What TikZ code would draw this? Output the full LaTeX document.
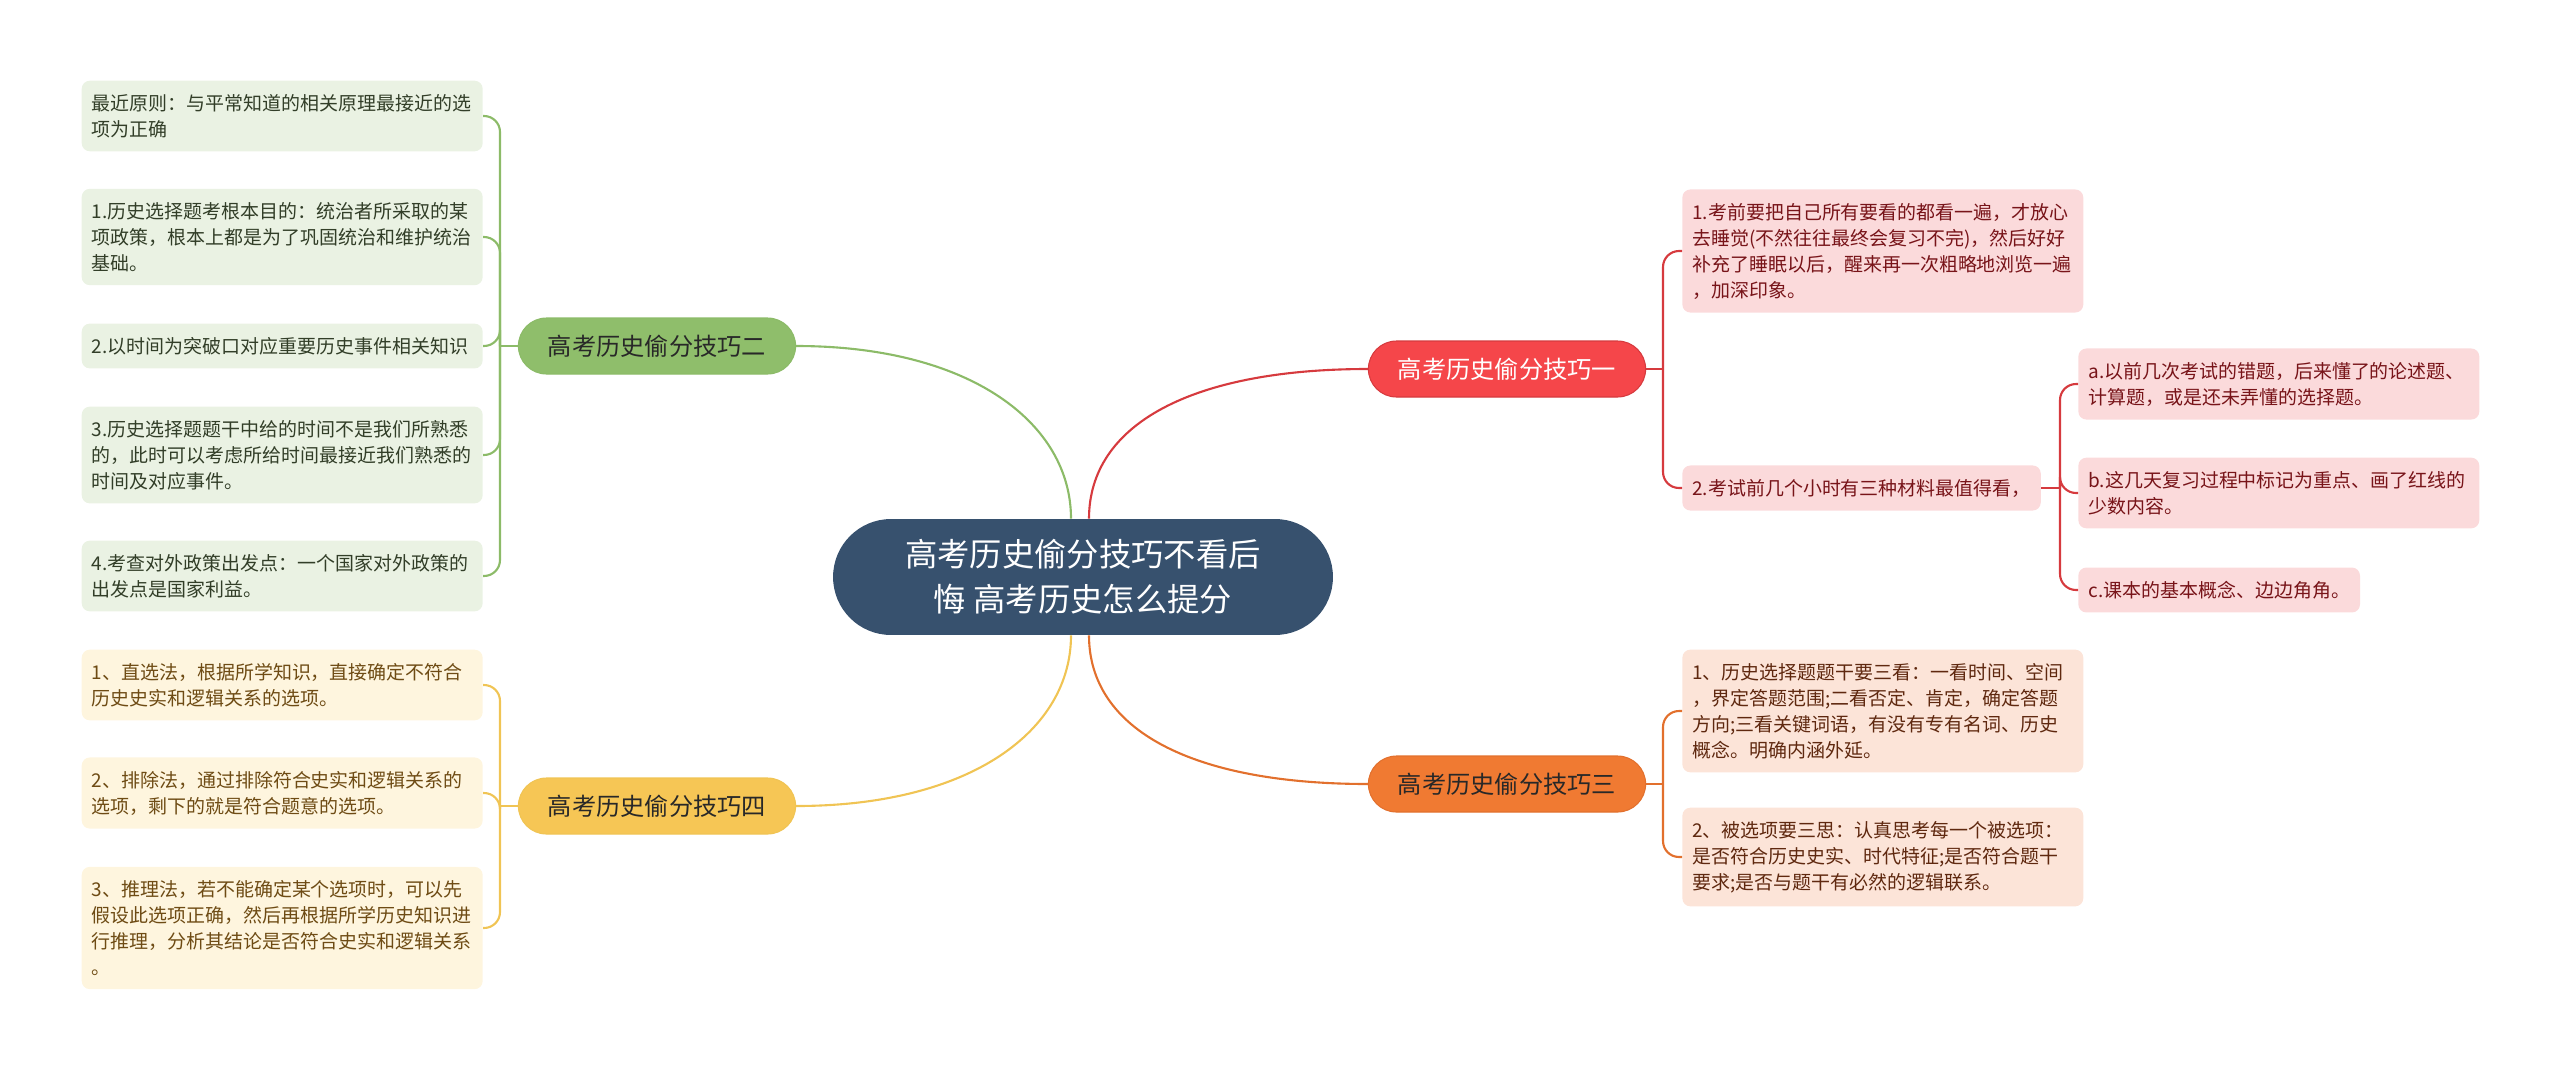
\documentclass[tikz,border=0pt]{standalone}
\usepackage{fontspec}
\newfontfamily\cjk{Noto Sans CJK SC}
\usetikzlibrary{positioning, calc}

\definecolor{centrefill}{RGB}{55,81,110}
\definecolor{onefill}{RGB}{245,70,74}
\definecolor{twofill}{RGB}{143,190,107}
\definecolor{threefill}{RGB}{240,122,50}
\definecolor{fourfill}{RGB}{246,198,85}
\definecolor{oneline}{RGB}{214,58,62}
\definecolor{twoline}{RGB}{140,187,104}
\definecolor{threeline}{RGB}{226,112,45}
\definecolor{fourline}{RGB}{240,196,84}
\definecolor{oneleaf}{RGB}{251,218,219}
\definecolor{twoleaf}{RGB}{234,242,227}
\definecolor{threeleaf}{RGB}{252,228,216}
\definecolor{fourleaf}{RGB}{254,245,222}
\definecolor{onetext}{RGB}{120,20,25}
\definecolor{twotext}{RGB}{50,62,40}
\definecolor{threetext}{RGB}{95,40,15}
\definecolor{fourtext}{RGB}{110,75,20}
\definecolor{darktext}{RGB}{40,40,40}

\begin{document}
\begin{tikzpicture}[x=0.02cm, y=-0.02cm,
    topic/.style={rectangle, rounded corners=1.16cm, fill=centrefill, text=white,
        minimum width=10cm, minimum height=2.32cm, align=center,
        font=\cjk\fontsize{18.4}{25.6}\selectfont},
    branch/.style={rectangle, rounded corners=0.56cm, minimum height=1.12cm,
        inner xsep=0.59cm, line width=0.6pt, font=\cjk\fontsize{13.8}{16}\selectfont},
    tightleaf/.style={rectangle, rounded corners=0.16cm, inner xsep=0.2cm, inner ysep=0.27cm,
        align=left, font=\cjk\fontsize{10.8}{14.8}\selectfont},
    leaf/.style={tightleaf, text width=7.62cm},
    link/.style={line width=1.2pt},
    fork/.style={link, rounded corners=0.32cm}]

    \useasboundingbox (0,0) rectangle (2560,1069);

    % Where the leaf brackets stand
    \def\leftFork{500}
    \def\rightFork{1663}
    \def\subFork{2060}

    % Centre
    \node[topic] (centre) at (1083,577) {高考历史偷分技巧不看后\\悔 高考历史怎么提分};

    % Main branches
    \node[branch, fill=onefill, draw=oneline, text=white] (one) at (1507,369) {高考历史偷分技巧一};
    \node[branch, fill=twofill, draw=twoline, text=darktext] (two) at (657,346) {高考历史偷分技巧二};
    \node[branch, fill=threefill, draw=threeline, text=darktext] (three) at (1507,784) {高考历史偷分技巧三};
    \node[branch, fill=fourfill, draw=fourline, text=darktext] (four) at (657,806) {高考历史偷分技巧四};

    \draw[link, twoline] ($(centre.north)+(-12,0)$) .. controls +(0,-95) and +(175,0) .. (two.east);
    \draw[link, oneline] ($(centre.north)+(6,0)$) .. controls +(0,-95) and +(-175,0) .. (one.west);
    \draw[link, fourline] ($(centre.south)+(-12,0)$) .. controls +(0,95) and +(175,0) .. (four.east);
    \draw[link, threeline] ($(centre.south)+(6,0)$) .. controls +(0,95) and +(-175,0) .. (three.west);

    % Leaves of branch two
    \node[leaf, fill=twoleaf, text=twotext, anchor=east] (g1) at (483,116) {最近原则：与平常知道的相关原理最接近的选\\项为正确};
    \node[leaf, fill=twoleaf, text=twotext, anchor=east] (g2) at (483,237) {1.历史选择题考根本目的：统治者所采取的某\\项政策，根本上都是为了巩固统治和维护统治\\基础。};
    \node[leaf, fill=twoleaf, text=twotext, anchor=east] (g3) at (483,346) {2.以时间为突破口对应重要历史事件相关知识};
    \node[leaf, fill=twoleaf, text=twotext, anchor=east] (g4) at (483,455) {3.历史选择题题干中给的时间不是我们所熟悉\\的，此时可以考虑所给时间最接近我们熟悉的\\时间及对应事件。};
    \node[leaf, fill=twoleaf, text=twotext, anchor=east] (g5) at (483,576) {4.考查对外政策出发点：一个国家对外政策的\\出发点是国家利益。};

    \coordinate (twofork) at (\leftFork,346);
    \draw[link, twoline] (two.west) -- (twofork);
    \draw[fork, twoline] (twofork) |- (g1.east);
    \draw[fork, twoline] (twofork) |- (g2.east);
    \draw[fork, twoline] (twofork) |- (g3.east);
    \draw[fork, twoline] (twofork) |- (g4.east);
    \draw[fork, twoline] (twofork) |- (g5.east);

    % Leaves of branch four
    \node[leaf, fill=fourleaf, text=fourtext, anchor=east] (y1) at (483,685) {1、直选法，根据所学知识，直接确定不符合\\历史史实和逻辑关系的选项。};
    \node[leaf, fill=fourleaf, text=fourtext, anchor=east] (y2) at (483,793) {2、排除法，通过排除符合史实和逻辑关系的\\选项，剩下的就是符合题意的选项。};
    \node[leaf, fill=fourleaf, text=fourtext, anchor=east] (y3) at (483,928) {3、推理法，若不能确定某个选项时，可以先\\假设此选项正确，然后再根据所学历史知识进\\行推理，分析其结论是否符合史实和逻辑关系\\。};

    \coordinate (fourfork) at (\leftFork,806);
    \draw[link, fourline] (four.west) -- (fourfork);
    \draw[fork, fourline] (fourfork) |- (y1.east);
    \draw[fork, fourline] (fourfork) |- (y2.east);
    \draw[fork, fourline] (fourfork) |- (y3.east);

    % Leaves of branch one
    \node[leaf, fill=oneleaf, text=onetext, anchor=west] (r1) at (1682,251) {1.考前要把自己所有要看的都看一遍，才放心\\去睡觉(不然往往最终会复习不完)，然后好好\\补充了睡眠以后，醒来再一次粗略地浏览一遍\\，加深印象。};
    \node[tightleaf, fill=oneleaf, text=onetext, anchor=west] (r2) at (1682,488) {2.考试前几个小时有三种材料最值得看，};
    \node[leaf, fill=oneleaf, text=onetext, anchor=west] (ra) at (2078,384) {a.以前几次考试的错题，后来懂了的论述题、\\计算题，或是还未弄懂的选择题。};
    \node[leaf, fill=oneleaf, text=onetext, anchor=west] (rb) at (2078,493) {b.这几天复习过程中标记为重点、画了红线的\\少数内容。};
    \node[tightleaf, fill=oneleaf, text=onetext, anchor=west] (rc) at (2078,590) {c.课本的基本概念、边边角角。};

    \coordinate (onefork) at (\rightFork,369);
    \draw[link, oneline] (one.east) -- (onefork);
    \draw[fork, oneline] (onefork) |- (r1.west);
    \draw[fork, oneline] (onefork) |- (r2.west);

    \coordinate (subfork) at (\subFork,488);
    \draw[link, oneline] (r2.east) -- (subfork);
    \draw[fork, oneline] (subfork) |- (ra.west);
    \draw[fork, oneline] (subfork) |- (rb.west);
    \draw[fork, oneline] (subfork) |- (rc.west);

    % Leaves of branch three
    \node[leaf, fill=threeleaf, text=threetext, anchor=west] (o1) at (1682,711) {1、历史选择题题干要三看：一看时间、空间\\，界定答题范围;二看否定、肯定，确定答题\\方向;三看关键词语，有没有专有名词、历史\\概念。明确内涵外延。};
    \node[leaf, fill=threeleaf, text=threetext, anchor=west] (o2) at (1682,857) {2、被选项要三思：认真思考每一个被选项：\\是否符合历史史实、时代特征;是否符合题干\\要求;是否与题干有必然的逻辑联系。};

    \coordinate (threefork) at (\rightFork,784);
    \draw[link, threeline] (three.east) -- (threefork);
    \draw[fork, threeline] (threefork) |- (o1.west);
    \draw[fork, threeline] (threefork) |- (o2.west);
\end{tikzpicture}
\end{document}
